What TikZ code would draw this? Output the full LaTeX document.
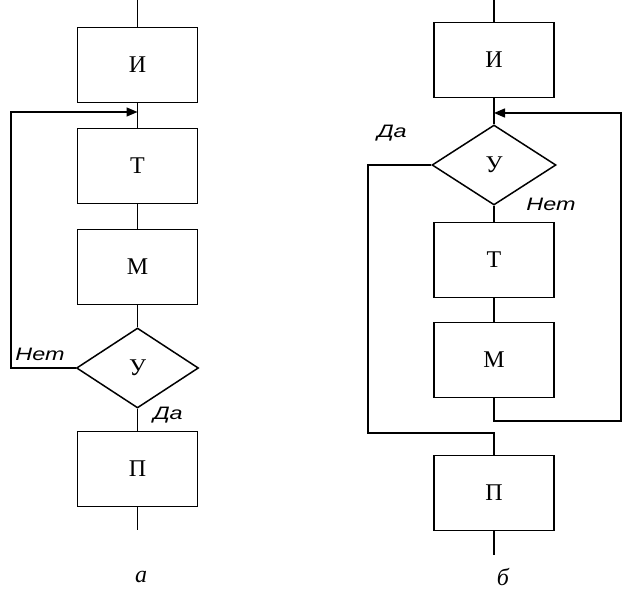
\documentclass[tikz,border=0pt]{standalone}
\usepackage{fontspec}
\setmainfont{Liberation Serif}
\newfontfamily\labelfont{Liberation Sans}
\usepackage{tikz}
\usetikzlibrary{shapes.geometric,arrows.meta}
\tikzset{node distance=101pt, auto,
  >={Triangle[length=11pt,width=9pt]},
  blk/.style={draw, line width=1.5pt, minimum width=120pt, minimum height=75pt, inner sep=0pt,
    font=\fontsize{24}{28}\selectfont},
  cond/.style={draw, diamond, line width=1.5pt, minimum width=122pt, minimum height=80pt, inner sep=0pt,
    font=\fontsize{24}{28}\selectfont},
  answ/.style={font=\labelfont\itshape\fontsize{18}{21}\selectfont, xscale=1.3, inner sep=0pt},
  capt/.style={font=\itshape\fontsize{24}{28}\selectfont, inner sep=0pt}}

\begin{document}
\begin{tikzpicture}[x=1pt, y=-1pt, line width=1.5pt]
                \useasboundingbox (0,0) rectangle (625,594);
                % a
                \coordinate (in1) at (137.5,0);
                \node[blk] (I1) at (137.5,65) {И};
                \node[blk] (T1) [below of=I1] {Т};
                \node[blk] (M1) [below of=T1] {М};
                \node[cond] (U1) [below of=M1] {У};
                \node[blk] (P1) [below of=U1] {П};
                \coordinate (out1) at (137.5,530);
                \coordinate (j1) at (137.5,112);
                \coordinate (lt) at (11,112);
                \draw (in1) -- (I1);
                \draw (I1) -- (T1);
                \draw (T1) -- (M1);
                \draw (M1) -- (U1);
                \draw (U1) -- (P1);
                \draw (P1) -- (out1);
                \draw[->] (U1.west) -- (lt |- U1.west) -- (lt) -- (j1);
                \node[answ] (no1) at (40,354) {Нет};
                \node[answ] (yes1) at (168,415) {Да};
                \node[capt] (cap1) at (141,577) {а};
                % b
                \coordinate (in2) at (494,0);
                \node[blk] (I2) at (494,60) {И};
                \node[cond, minimum width=124pt] (U2) [below of=I2, node distance=105pt] {У};
                \node[blk] (T2) [below of=U2, node distance=95pt] {Т};
                \node[blk] (M2) [below of=T2, node distance=100pt] {М};
                \node[blk] (P2) [below of=M2, node distance=133pt] {П};
                \coordinate (out2) at (494,555);
                \coordinate (j2) at (494,113);
                \coordinate (rt) at (621,113);
                \coordinate (rb) at (621,421);
                \coordinate (lb) at (368,433);
                \draw (in2) -- (I2);
                \draw (I2) -- (U2);
                \draw (U2) -- (T2);
                \draw (T2) -- (M2);
                \draw (P2) -- (out2);
                \draw[->] (M2.south) |- (rb) -- (rt) -- (j2);
                \draw (U2.west) -| (lb) -| (P2.north);
                \node[answ] (yes2) at (392,133) {Да};
                \node[answ] (no2) at (551,204) {Нет};
                \node[capt] (cap2) at (503,577) {б};
              \end{tikzpicture}
\end{document}
